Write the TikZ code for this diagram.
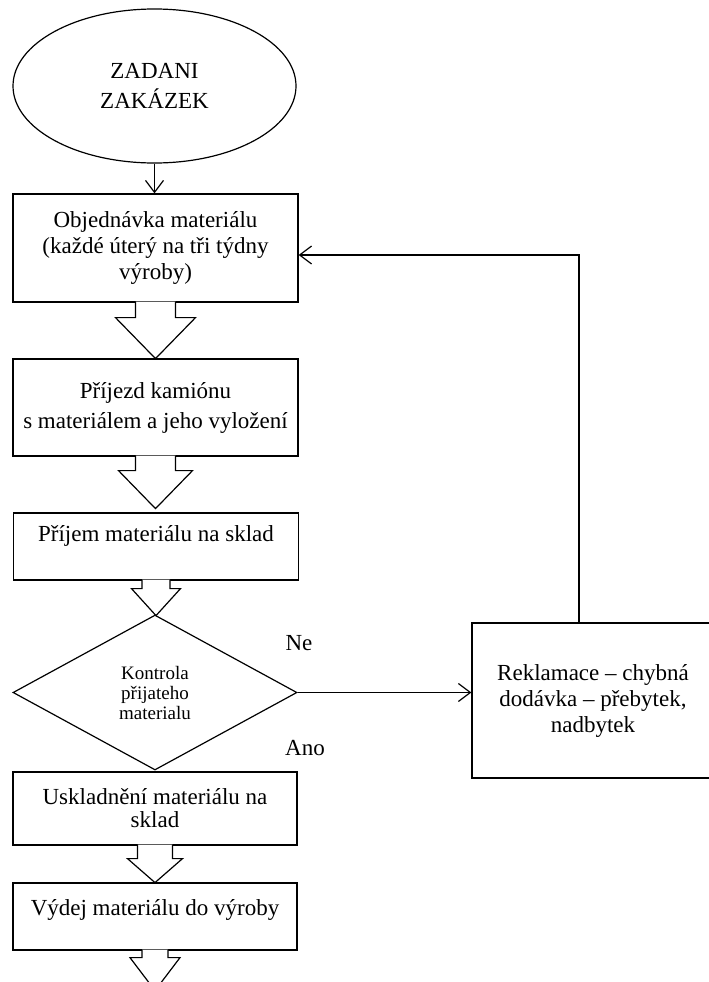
\documentclass[tikz,border=0pt]{standalone}
\usepackage{fontspec}
\setmainfont{Liberation Serif}
\usetikzlibrary{shapes.geometric,arrows.meta}

\tikzset{
  krok/.style={draw, rectangle, align=center, inner sep=2bp, minimum width=285bp},
  rozhod/.style={draw, diamond, align=center, inner sep=0pt, minimum width=284bp, minimum height=155bp, font=\fontsize{19bp}{20bp}\selectfont},
  sipka/.style={draw, fill=white, line join=miter}
}

\begin{document}
\begin{tikzpicture}[x=1bp, y=-1bp, line width=1.2bp, >={Straight Barb[length=12bp,width=18bp]}, font=\fontsize{23bp}{26bp}\selectfont]

\useasboundingbox (0,0) rectangle (709,982);
\clip (0,0) rectangle (709,982);

% Start
\node[draw, ellipse, minimum width=283bp, minimum height=154bp, align=center, font=\fontsize{23bp}{30bp}\selectfont] (zadani) at (154.5,86) {ZADANI\\ZAKÁZEK};

% Kroky
\node[krok, minimum height=108bp] (objednavka) at (155.5,248) {Objednávka materiálu\\(každé úterý na tři týdny\\výroby)};
\node[krok, minimum height=97bp, font=\fontsize{23bp}{30bp}\selectfont] (prijezd) at (155.5,407.5) {Příjezd kamiónu\\s materiálem a jeho vyložení};
\node[krok, minimum height=67bp, text height=17bp, text depth=27bp] (prijem) at (156,546.5) {Příjem materiálu na sklad};

% Rozhodovani
\node[rozhod] (kontrola) at (155,692.5) {Kontrola\\přijateho\\materialu};
\node (ne) at (299,643) {Ne};
\node (ano) at (305,748) {Ano};

\node[krok, minimum width=284bp, minimum height=73bp, font=\fontsize{23bp}{23bp}\selectfont] (uskladneni) at (155,808.5) {Uskladnění materiálu na\\sklad};
\node[krok, minimum width=284bp, minimum height=67bp, text height=17bp, text depth=20bp] (vydej) at (155,916.5) {Výdej materiálu do výroby};

% Reklamace
\node[krok, minimum width=242bp, minimum height=155bp] (reklamace) at (593,700.5) {Reklamace -- chybná\\dodávka -- přebytek,\\nadbytek};

% Sipky mezi kroky
\draw[sipka, shift={(objednavka.south)}] (-20,-1) -- (-20,15) -- (-40,15) -- (0,56) -- (40,15) -- (20,15) -- (20,-1);
\draw[sipka, shift={(prijezd.south)}] (-20,-1) -- (-20,14) -- (-37,14) -- (0,52) -- (37,14) -- (20,14) -- (20,-1);
\draw[sipka, shift={(prijem.south)}] (-14,-1) -- (-14,8) -- (-24.5,8) -- (0,35) -- (24.5,8) -- (14,8) -- (14,-1);
\draw[sipka, shift={(uskladneni.south)}] (-17.5,-1) -- (-17.5,13) -- (-27.5,13) -- (0,37) -- (27.5,13) -- (17.5,13) -- (17.5,-1);
\draw[sipka, shift={(vydej.south)}] (-13,-1) -- (-13,7) -- (-25,7) -- (0,40) -- (25,7) -- (13,7) -- (13,-1);

% Spojnice
\draw[->] (zadani.south) -- (zadani.south |- objednavka.north);
\draw[->] (kontrola.east) -- (kontrola.east -| reklamace.west);
\coordinate (zpet) at (579,255);
\draw[->] (reklamace.north -| zpet) -- (zpet) -- (zpet -| objednavka.east);

\end{tikzpicture}
\end{document}
